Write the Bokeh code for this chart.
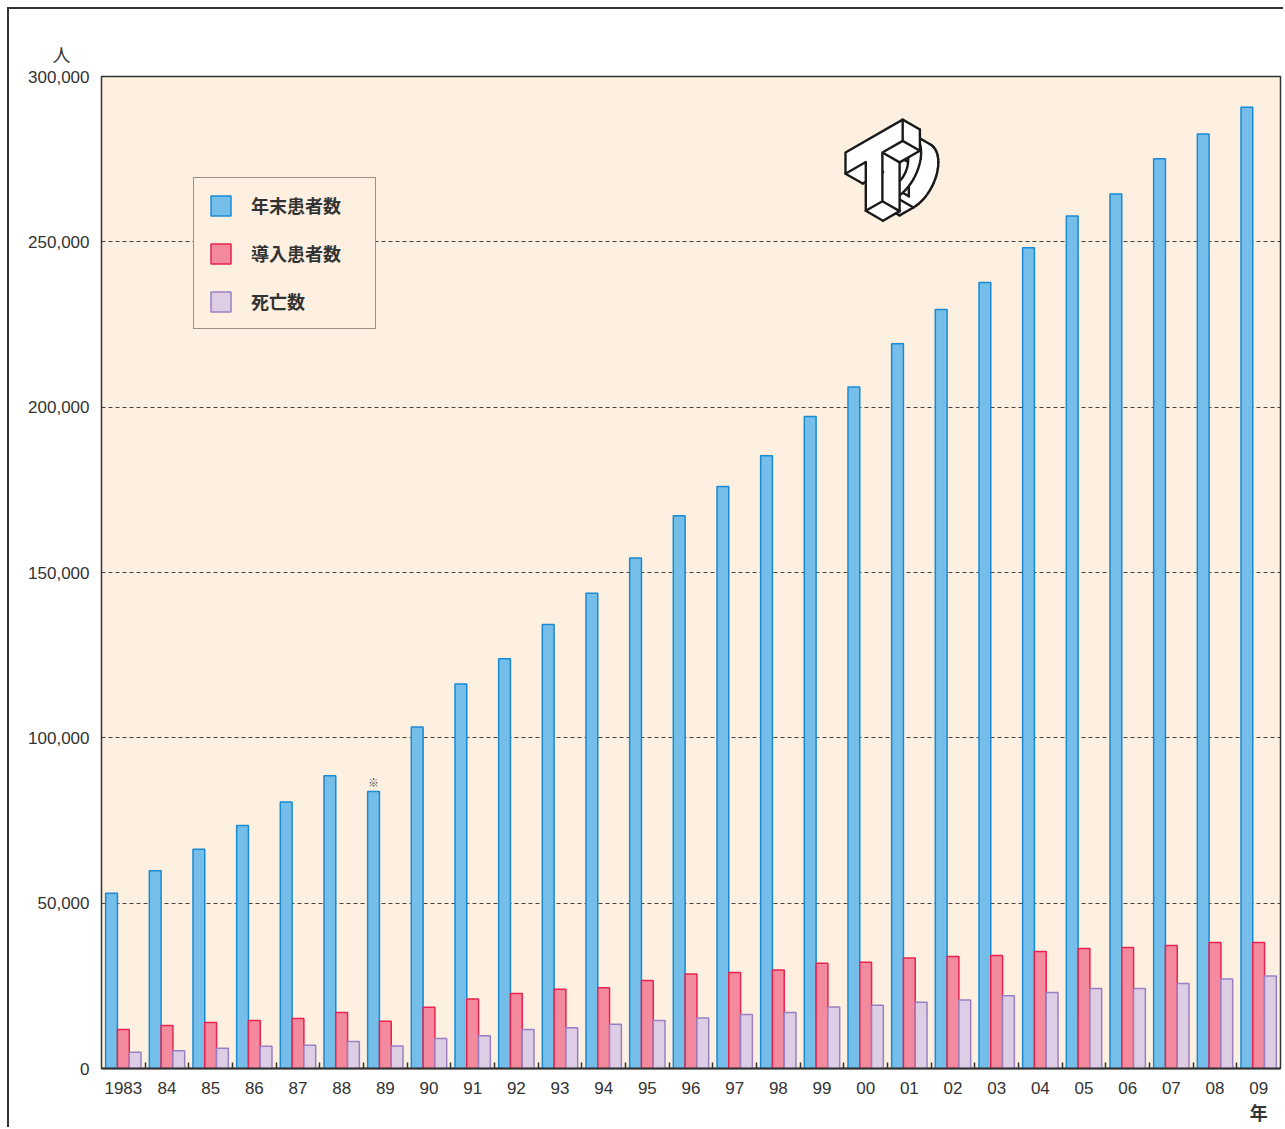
import math
from bokeh.plotting import figure
from bokeh.models import (FixedTicker, NumeralTickFormatter, Legend, LegendItem,
                          Label, Range1d, ColumnDataSource, LinearAxis)
from bokeh.transform import dodge
from bokeh.embed import file_html
from bokeh.resources import INLINE

# ---------------- data ----------------
years = ["1983", "84", "85", "86", "87", "88", "89", "90", "91", "92", "93", "94",
         "95", "96", "97", "98", "99", "00", "01", "02", "03", "04", "05", "06",
         "07", "08", "09"]
year_end = [53000, 59800, 66300, 73500, 80600, 88500, 83800, 103300, 116300, 123900,
            134300, 143700, 154400, 167200, 176000, 185300, 197200, 206100, 219200,
            229500, 237700, 248200, 257800, 264500, 275100, 282600, 290700]
new_pat = [11800, 13000, 13900, 14500, 15100, 16900, 14300, 18500, 21000, 22700,
           24000, 24400, 26600, 28600, 29000, 29800, 31800, 32100, 33400, 33900,
           34200, 35400, 36300, 36600, 37200, 38100, 38100]
deaths = [4900, 5400, 6100, 6700, 7000, 8200, 6800, 9100, 9900, 11800, 12300, 13400,
          14500, 15300, 16300, 16900, 18600, 19100, 20000, 20700, 22000, 23000,
          24200, 24200, 25700, 27100, 28000]
series_names = ["年末患者数", "導入患者数", "死亡数"]
y_ticks = [0, 50000, 100000, 150000, 200000, 250000, 300000]
y_unit = "人"
x_unit = "年"

# ---------------- layout ----------------
W, H = 1283, 1127
BL, BR, BT, BB = 101, 3, 76, 59
FW, FH = W - BL - BR, H - BT - BB
N = len(years)
X_LO, X_HI = -0.5, N - 0.5
Y_LO, Y_HI = 0, 300000

def px2d(px, py):
    """canvas pixel -> data coordinates (used for the decorative logo only)"""
    return (X_LO + (px - BL) / FW * (X_HI - X_LO),
            Y_LO + (H - BB - py) / FH * (Y_HI - Y_LO))

BG = "#fdf0e1"
INK = "#333333"
p = figure(width=W, height=H, output_backend="svg", toolbar_location=None,
           x_range=Range1d(X_LO, X_HI), y_range=Range1d(Y_LO, Y_HI),
           min_border_left=BL, min_border_right=BR, min_border_top=BT,
           min_border_bottom=BB)
p.styles = {"background": "linear-gradient(#333,#333) 7px 7px / 2px calc(100% - 7px) no-repeat, "
                          "linear-gradient(#333,#333) 7px 7px / calc(100% - 7px) 2px no-repeat, #ffffff"}
p.background_fill_color = BG
p.border_fill_color = "white"
p.border_fill_alpha = 0.0
p.outline_line_color = INK
p.outline_line_width = 1.5

# unit of the y axis as a left-aligned title above the axis labels
p.title.text = y_unit
p.title.align = "left"
p.title.offset = -49
p.title.standoff = 20
p.title.text_font = "Noto Sans CJK JP"
p.title.text_font_size = "18px"
p.title.text_font_style = "normal"
p.title.text_color = INK

# grid
p.xgrid.visible = False
p.ygrid.ticker = FixedTicker(ticks=y_ticks)
p.ygrid.grid_line_color = "#444444"
p.ygrid.grid_line_dash = "4 3"
p.ygrid.grid_line_width = 1

# bars
x_idx = list(range(N))
bw = 0.27
src = ColumnDataSource(dict(x=x_idx, a=year_end, b=new_pat, c=deaths))
r1 = p.vbar(x=dodge("x", -bw, range=p.x_range), top="a", width=bw, source=src,
            fill_color="#74bee9", line_color="#1a8ad2", line_width=1.5)
r2 = p.vbar(x=dodge("x", 0, range=p.x_range), top="b", width=bw, source=src,
            fill_color="#f48a9e", line_color="#e8234f", line_width=1.5)
r3 = p.vbar(x=dodge("x", bw, range=p.x_range), top="c", width=bw, source=src,
            fill_color="#ddcde5", line_color="#9a80c2", line_width=1.5)

# axes
xa = p.xaxis[0]
xa.ticker = FixedTicker(ticks=x_idx, minor_ticks=[i + 0.5 for i in range(N - 1)])
xa.major_label_overrides = {i: years[i] for i in range(N)}
xa.major_tick_line_color = None
xa.minor_tick_in = 6
xa.minor_tick_out = 0
xa.minor_tick_line_color = INK
xa.minor_tick_line_width = 1.5
xa.axis_line_color = INK
xa.axis_line_width = 2
xa.major_label_text_font = "Liberation Sans"
xa.major_label_text_font_size = "17px"
xa.major_label_text_color = INK
xa.major_label_standoff = 7

# second (label-only) axis carrying the x unit under the last year
xu = LinearAxis(ticker=FixedTicker(ticks=[N - 1]),
                major_label_overrides={N - 1: x_unit})
xu.axis_line_color = None
xu.major_tick_line_color = None
xu.minor_tick_line_color = None
xu.major_label_standoff = -4
xu.major_label_text_font = "Noto Sans CJK JP"
xu.major_label_text_font_size = "18px"
xu.major_label_text_font_style = "bold"
xu.major_label_text_color = INK
p.add_layout(xu, "below")

ya = p.yaxis[0]
ya.ticker = FixedTicker(ticks=y_ticks)
ya.formatter = NumeralTickFormatter(format="0,0")
ya.major_tick_line_color = None
ya.minor_tick_line_color = None
ya.axis_line_color = None
ya.major_label_text_font = "Liberation Sans"
ya.major_label_text_font_size = "17px"
ya.major_label_text_color = INK
ya.major_label_standoff = 6

# legend
legend = Legend(items=[LegendItem(label=series_names[0], renderers=[r1]),
                       LegendItem(label=series_names[1], renderers=[r2]),
                       LegendItem(label=series_names[2], renderers=[r3])],
                location=(92, H - BB - 329), margin=0, padding=14, spacing=22,
                glyph_width=25, glyph_height=25, label_height=25, label_width=110,
                label_standoff=18, label_text_font="Noto Sans CJK JP",
                label_text_font_size="18px", label_text_font_style="bold",
                label_text_color=INK, border_line_color=INK, border_line_width=1.5,
                background_fill_color=BG, background_fill_alpha=1.0)
p.add_layout(legend, "center")

# note mark over 1989
i89 = years.index("89")
p.add_layout(Label(x=i89 - bw, y=year_end[i89] + 300, text="※", text_align="center",
                   text_baseline="bottom", text_font="Noto Sans CJK JP",
                   text_font_size="11px", text_color="#555555"))

# ---------------- logo (decoration) ----------------
LX0, LY0, DEP = 845, 152, 21
DX, DY = 0.82, 0.47
SC = 1.06

def iso(u, v, w=0.0):
    u, v = u * SC, v * SC
    return (LX0 + 0.87 * u + DX * w, LY0 - 0.5 * u + v + DY * w)

def to_data(pts):
    xs, ys = [], []
    for (sx, sy) in pts:
        dx, dy = px2d(sx, sy)
        xs.append(dx)
        ys.append(dy)
    return xs, ys

def sarea(pts):
    s = 0.0
    for i in range(len(pts)):
        x1, y1 = pts[i]
        x2, y2 = pts[(i + 1) % len(pts)]
        s += x1 * y2 - x2 * y1
    return s / 2

def extrude(poly, corners, hole=False):
    """visible side faces (fill only) and their edge lines"""
    scr = [iso(u, v) for (u, v) in poly]
    s_poly = sarea(scr)
    n = len(poly)
    vis = []
    quads = []
    for i in range(n):
        a = poly[i]
        b = poly[(i + 1) % n]
        q = [iso(a[0], a[1], 0), iso(b[0], b[1], 0), iso(b[0], b[1], DEP), iso(a[0], a[1], DEP)]
        sq = sarea(q)
        v = (sq * s_poly < 0) if not hole else (sq * s_poly > 0)
        vis.append(v and abs(sq) > 1e-6)
        quads.append(q)
    fills = [quads[i] for i in range(n) if vis[i]]
    lines = []
    for i in range(n):
        if vis[i]:
            q = quads[i]
            lines.append([q[2], q[3]])  # back edge
    for i in range(n):
        prev_v = vis[i - 1]
        cur_v = vis[i]
        if (prev_v or cur_v) and (i in corners or prev_v != cur_v):
            a = poly[i]
            lines.append([iso(a[0], a[1], 0), iso(a[0], a[1], DEP)])
    return fills, lines

def arc(cu, cv, ru, rv, a0, a1, n):
    return [(cu + ru * math.cos(math.radians(a0 + (a1 - a0) * k / n)),
             cv + rv * math.sin(math.radians(a0 + (a1 - a0) * k / n))) for k in range(n + 1)]

T_poly = [(0, 0), (62, 0), (62, 20), (40, 20), (40, 66), (22, 66), (22, 20), (0, 20)]
T_corners = set(range(len(T_poly)))
D_outer = [(40, 12)] + arc(55, 41, 27, 29, -90, 90, 30) + [(40, 70)]
D_outer_c = {0, 1, len(D_outer) - 2, len(D_outer) - 1}
D_inner = [(50, 25)] + arc(55, 41, 13, 16, -90, 90, 20) + [(50, 57)]
D_inner_c = {0, 1, len(D_inner) - 2, len(D_inner) - 1}

LW = 2.4
INKL = "#1a1a1a"

def draw_solid(fills, lines):
    if fills:
        xs, ys = [], []
        for q in fills:
            a, b = to_data(q)
            xs.append(a)
            ys.append(b)
        p.patches(xs=xs, ys=ys, fill_color="white", line_color="white", line_width=0.8)
    if lines:
        xs, ys = [], []
        for seg in lines:
            a, b = to_data(seg)
            xs.append(a)
            ys.append(b)
        p.multi_line(xs=xs, ys=ys, line_color=INKL, line_width=LW, line_cap="round")

# D first (behind), then T
fo, lo = extrude(D_outer, D_outer_c)
fi, li = extrude(D_inner, D_inner_c, hole=True)
draw_solid(fo + fi, lo + li)
ox, oy = to_data([iso(u, v) for (u, v) in D_outer])
ix, iy = to_data([iso(u, v) for (u, v) in D_inner])
p.multi_polygons(xs=[[[ox, ix]]], ys=[[[oy, iy]]], fill_color="white", line_color=INKL,
                 line_width=LW, line_join="round")
ft, lt = extrude(T_poly, T_corners)
draw_solid(ft, lt)
tx, ty = to_data([iso(u, v) for (u, v) in T_poly])
p.patches(xs=[tx], ys=[ty], fill_color="white", line_color=INKL, line_width=LW,
          line_join="round")

open("out.html", "w").write(file_html(p, INLINE))
